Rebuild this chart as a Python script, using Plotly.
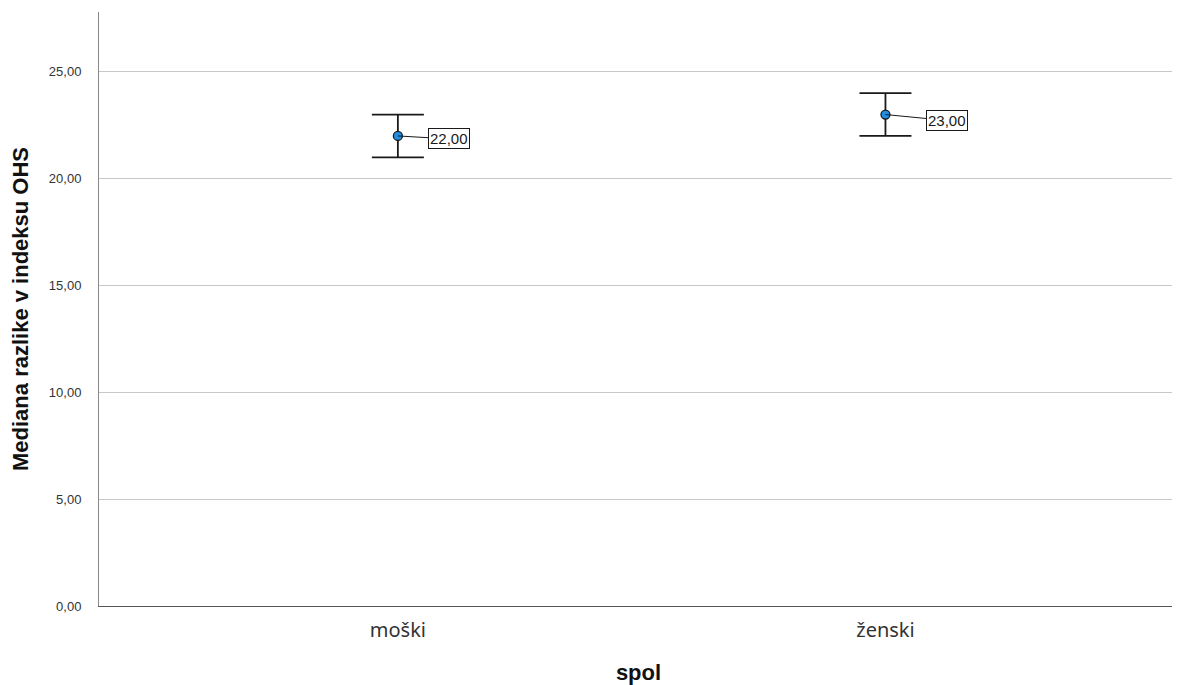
import plotly.graph_objects as go

categories = ["moški", "ženski"]
medians = [22.0, 23.0]
ci_upper = [23.0, 24.0]
ci_lower = [21.0, 22.0]
labels = ["22,00", "23,00"]
tick_vals = [0, 5, 10, 15, 20, 25]
tick_text = ["0,00", "5,00", "10,00", "15,00", "20,00", "25,00"]

xs = [0, 1]
err_plus = [u - m for u, m in zip(ci_upper, medians)]
err_minus = [m - l for m, l in zip(medians, ci_lower)]

fig = go.Figure()
fig.add_trace(go.Scatter(
    x=xs, y=medians, mode="markers",
    marker=dict(size=9, color="#1f8fe5", line=dict(color="#1a1a1a", width=1.3)),
    error_y=dict(type="data", symmetric=False, array=err_plus, arrayminus=err_minus,
                 color="#1a1a1a", thickness=1.8, width=26),
    showlegend=False, hoverinfo="skip",
))

offsets = [(51, 3), (62, 6)]
for x, y, t, (ax, ay) in zip(xs, medians, labels, offsets):
    fig.add_annotation(
        x=x, y=y, text=t, showarrow=True, arrowhead=0, arrowwidth=1, arrowcolor="#1a1a1a",
        ax=ax, ay=ay, bordercolor="#1a1a1a", borderwidth=1, borderpad=1, bgcolor="white",
        font=dict(family="Liberation Sans, Arial", size=15, color="#1a1a1a"),
    )

fig.update_layout(
    width=1172, height=677,
    margin=dict(l=91, r=2, t=4, b=79, autoexpand=False),
    plot_bgcolor="white", paper_bgcolor="white",
    xaxis=dict(
        tickvals=xs, ticktext=categories, range=[-0.613, 1.6],
        showgrid=False, zeroline=False, showline=True, linecolor="#555555", linewidth=1,
        ticks="", ticklabelstandoff=6,
        tickfont=dict(family="Noto Sans, Open Sans", size=20, color="#333333"),
        title=dict(text="<b>spol</b>", font=dict(family="Liberation Sans, Arial", size=22, color="#111111"), standoff=26),
    ),
    yaxis=dict(
        range=[0, 27.8], tickvals=tick_vals, ticktext=tick_text,
        showgrid=True, gridcolor="#c8c8c8", gridwidth=1.3, zeroline=False,
        showline=True, linecolor="#888888", linewidth=1, ticks="", ticklabelstandoff=14,
        tickfont=dict(family="Liberation Sans, Arial", size=13, color="#333333"),
        title=dict(text="<b>Mediana razlike v indeksu OHS</b>", font=dict(family="Liberation Sans, Arial", size=22, color="#111111"), standoff=14),
    ),
)

fig.write_html("out.html")
